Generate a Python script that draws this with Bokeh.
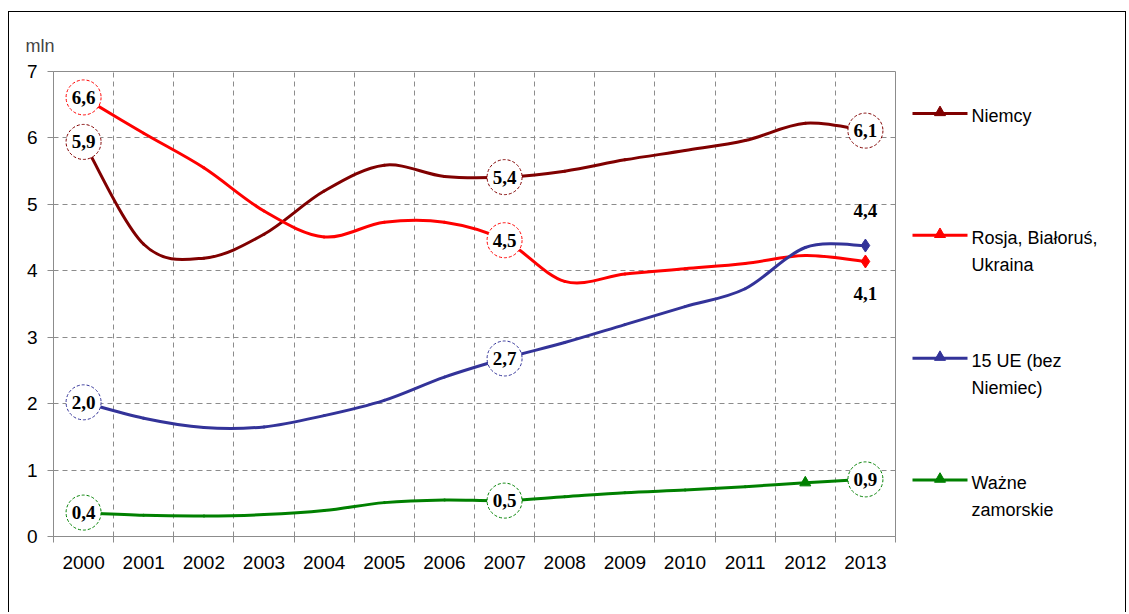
from bokeh.plotting import figure
from bokeh.layouts import row
from bokeh.models import ColumnDataSource, FixedTicker, Range1d
from bokeh.core.properties import value
from bokeh.embed import file_html
from bokeh.resources import INLINE

# ---- data (mln) ----
years = list(range(2000, 2014))
niemcy = [5.94, 4.40, 4.19, 4.55, 5.20, 5.59, 5.42, 5.41, 5.50, 5.67, 5.81, 5.96, 6.22, 6.11]
rosja = [6.61, 6.07, 5.55, 4.90, 4.51, 4.73, 4.73, 4.46, 3.84, 3.95, 4.03, 4.11, 4.23, 4.14]
ue15 = [2.02, 1.78, 1.64, 1.65, 1.82, 2.05, 2.40, 2.68, 2.92, 3.19, 3.46, 3.73, 4.35, 4.38]
zamorskie = [0.36, 0.32, 0.31, 0.33, 0.39, 0.51, 0.55, 0.54, 0.60, 0.66, 0.70, 0.75, 0.81, 0.86]

series_labels = [["Niemcy"], ["Rosja, Białoruś,", "Ukraina"], ["15 UE (bez", "Niemiec)"],
                 ["Ważne", "zamorskie"]]
series_values = [niemcy, rosja, ue15, zamorskie]
series_colors = ["#800000", "#FF0000", "#333399", "#008000"]
y_ticks = [0, 1, 2, 3, 4, 5, 6, 7]

circled_idx = [[0, 7, 13], [0, 7], [0, 7], [0, 7, 13]]

FONT = "Liberation Sans"
SERIF = "Liberation Serif"
GRID = "#8c8c8c"
AXIS = "#8c8c8c"
H = 600


def fmt(v):
    return f"{v:.1f}".replace(".", ",")


def bezier_source(xs, ys):
    n = len(xs)
    d = dict(x0=[], y0=[], x1=[], y1=[], cx0=[], cy0=[], cx1=[], cy1=[])
    for i in range(n - 1):
        a = max(i - 1, 0)
        b = min(i + 2, n - 1)
        d["x0"].append(xs[i]); d["y0"].append(ys[i])
        d["x1"].append(xs[i + 1]); d["y1"].append(ys[i + 1])
        d["cx0"].append(xs[i] + (xs[i + 1] - xs[a]) / 6.0)
        d["cy0"].append(ys[i] + (ys[i + 1] - ys[a]) / 6.0)
        d["cx1"].append(xs[i + 1] - (xs[b] - xs[i]) / 6.0)
        d["cy1"].append(ys[i + 1] - (ys[b] - ys[i]) / 6.0)
    return ColumnDataSource(d)


p = figure(width=888, height=H,
           x_range=Range1d(1999.5, 2013.5), y_range=Range1d(0, 7),
           output_backend="svg", toolbar_location=None,
           min_border_left=44, min_border_right=2,
           min_border_top=59, min_border_bottom=76)
p.background_fill_color = "white"
p.border_fill_color = "white"
p.outline_line_color = AXIS
p.outline_line_width = 1

p.title.text = "mln"
p.title.align = "left"
p.title.offset = -28
p.title.standoff = 32
p.title.text_font = FONT
p.title.text_font_size = "18px"
p.title.text_font_style = "normal"

# x axis
bounds = [y - 0.5 for y in years] + [years[-1] + 0.5]
p.xaxis.ticker = FixedTicker(ticks=years, minor_ticks=bounds)
p.xaxis.major_tick_line_color = None
p.xaxis.major_tick_out = 6
p.xaxis.minor_tick_in = 0
p.xaxis.minor_tick_out = 6
p.xaxis.minor_tick_line_color = AXIS
p.xaxis.axis_line_color = AXIS
p.xaxis.major_label_text_font = FONT
p.xaxis.major_label_text_font_size = "19px"
p.xaxis.major_label_text_color = "black"
p.xaxis.major_label_standoff = 13

p.xgrid.ticker = FixedTicker(ticks=bounds[1:-1])
p.xgrid.grid_line_color = GRID
p.xgrid.grid_line_dash = "5 4"

# y axis
p.yaxis.ticker = FixedTicker(ticks=y_ticks)
p.yaxis.minor_tick_line_color = None
p.yaxis.major_tick_in = 0
p.yaxis.major_tick_out = 6
p.yaxis.major_tick_line_color = AXIS
p.yaxis.axis_line_color = AXIS
p.yaxis.major_label_text_font = FONT
p.yaxis.major_label_text_font_size = "19px"
p.yaxis.major_label_text_color = "black"
p.yaxis.major_label_standoff = 10

p.ygrid.ticker = FixedTicker(ticks=y_ticks[1:-1])
p.ygrid.grid_line_color = GRID
p.ygrid.grid_line_dash = "5 4"

for vals, col, cidx in zip(series_values, series_colors, circled_idx):
    src = bezier_source(years, vals)
    p.bezier("x0", "y0", "x1", "y1", "cx0", "cy0", "cx1", "cy1", source=src,
             line_color=col, line_width=3, line_cap="round")
    cx = [years[i] for i in cidx]
    cy = [vals[i] for i in cidx]
    ct = [fmt(vals[i]) for i in cidx]
    cs = ColumnDataSource(dict(x=cx, y=cy, t=ct))
    p.scatter("x", "y", source=cs, marker="circle", size=35, fill_color="white",
              line_color=col, line_dash="3 2", line_width=1)
    p.text("x", "y", text="t", source=cs, text_font=value(SERIF), text_font_style="bold",
           text_font_size="19px", text_align="center", text_baseline="middle",
           text_color="black")

# triangle marker shown on the overseas series
p.scatter(x=[years[12]], y=[zamorskie[12]], marker="triangle", size=11,
          fill_color="#008000", line_color="#008000")

# end markers and free labels for the two lines ending near 4
for vals, col, off in [(ue15, "#333399", -35), (rosja, "#FF0000", 32)]:
    p.scatter(x=[years[-1]], y=[vals[-1]], marker="diamond", size=13,
              fill_color=col, line_color=col)
    es = ColumnDataSource(dict(x=[years[-1]], y=[vals[-1]], t=[fmt(vals[-1])]))
    p.text("x", "y", text="t", source=es, y_offset=off, text_font=value(SERIF),
           text_font_style="bold", text_font_size="19px", text_align="center",
           text_baseline="middle", text_color="black")

# ---- legend panel (its frame is aligned with the chart frame: page y 71..536) ----
LW = 1116 - 888
lg = figure(width=LW, height=H, x_range=Range1d(0, LW), y_range=Range1d(536.5, 71),
            output_backend="svg", toolbar_location=None,
            min_border_left=0, min_border_right=0, min_border_top=59, min_border_bottom=76)
lg.axis.visible = False
lg.grid.visible = False
lg.outline_line_color = None
lg.background_fill_color = "white"
lg.border_fill_color = "white"

entry_y = [113, 235, 358, 480]
seg = dict(x0=[], x1=[], y=[], c=[])
tri = dict(x=[], y=[], c=[])
txt = dict(x=[], y=[], t=[])
for lines, col, ey in zip(series_labels, series_colors, entry_y):
    seg["x0"].append(15); seg["x1"].append(70); seg["y"].append(ey); seg["c"].append(col)
    tri["x"].append(42.5); tri["y"].append(ey - 1); tri["c"].append(col)
    for k, line in enumerate(lines):
        txt["x"].append(74); txt["y"].append(ey + 3 + 27 * k); txt["t"].append(line)

lg.segment("x0", "y", "x1", "y", source=ColumnDataSource(seg), line_color="c", line_width=3)
lg.scatter("x", "y", source=ColumnDataSource(tri), marker="triangle", size=11,
           fill_color="c", line_color="c")
lg.text("x", "y", text="t", source=ColumnDataSource(txt), text_font=value(FONT),
        text_font_size="18px", text_align="left", text_baseline="middle", text_color="black")

layout = row(p, lg, spacing=0)
layout.styles = {"border-left": "1px solid #000", "border-top": "1px solid #000",
                 "border-right": "1px solid #000", "margin-top": "11px",
                 "margin-left": "8px", "width": "fit-content"}

open("out.html", "w").write(file_html(layout, INLINE))
